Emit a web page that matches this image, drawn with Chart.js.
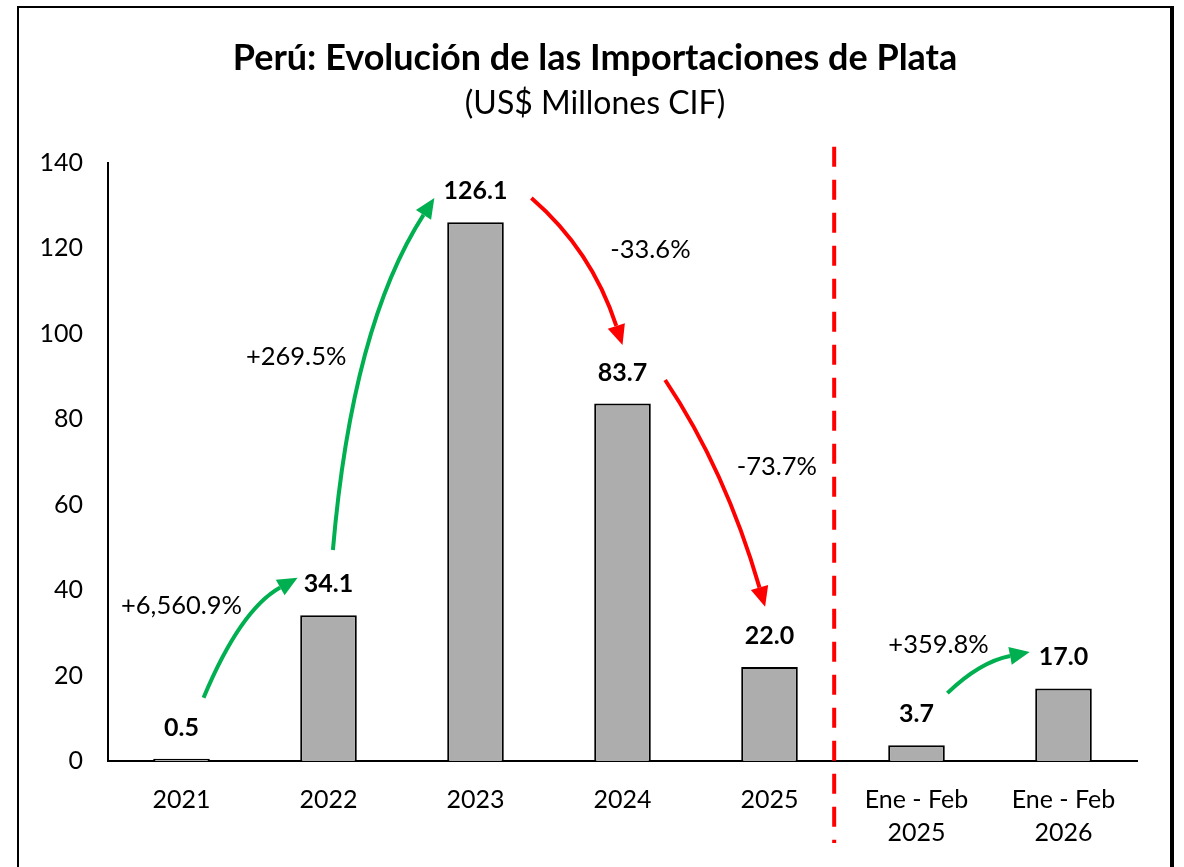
<!DOCTYPE html>
<html>
<head>
<meta charset="utf-8">
<script src="https://cdn.jsdelivr.net/npm/chart.js@4.4.1/dist/chart.umd.min.js"></script>
<style>
  html, body { margin: 0; padding: 0; background: #ffffff; }
  #wrap { position: relative; width: 1184px; height: 867px; }
  #frame {
    position: absolute; left: 17px; top: 6px; width: 1151px; height: 900px;
    border-left: 2px solid #000; border-top: 2px solid #000; border-right: 4px solid #000;
    pointer-events: none;
  }
</style>
</head>
<body>
<div id="wrap">
  <canvas id="silverChart" width="1184" height="867"></canvas>
  <div id="frame"></div>
</div>
<script>
// Chart data
const categories = ['2021', '2022', '2023', '2024', '2025', ['Ene - Feb', '2025'], ['Ene - Feb', '2026']];
const imports = [0.5, 34.1, 126.1, 83.7, 22.0, 3.7, 17.0];
const yTicks = [0, 20, 40, 60, 80, 100, 120, 140];

// Growth annotations: label text, label position and arrow (start, control, tip) in data units
const growthLabels = ['+6,560.9%', '+269.5%', '-33.6%', '-73.7%', '+359.8%'];
const growthColors = ['#00B050', '#00B050', '#FF0000', '#FF0000', '#00B050'];
const labelPos = [[0.0, 36.3], [0.78, 94.6], [3.19, 119.6], [4.05, 68.8], [5.15, 27.2]];
const arrowStart = [[0.15, 14.8], [1.03, 49.4], [2.38, 131.8], [3.29, 89.2], [5.21, 15.9]];
const arrowCtrl = [[0.40, 35.4], [1.16, 101.9], [2.79, 119.6], [3.70, 68.1], [5.43, 23.2]];
const arrowTip = [[0.79, 42.9], [1.72, 131.8], [3.0, 97.4], [3.97, 36.1], [5.77, 25.5]];

const FONT = 'Lato, "Open Sans", sans-serif';

// Title, subtitle, value labels, arrows and separator line
const annotationPlugin = {
    id: 'annotations',
    afterDatasetsDraw(chart) {
        const ctx = chart.ctx;
        const x = chart.scales.x;
        const y = chart.scales.y;
        const step = x.getPixelForValue(1) - x.getPixelForValue(0);
        const px = v => x.getPixelForValue(0) + v * step;

        ctx.save();
        ctx.fillStyle = '#000';
        ctx.textAlign = 'center';
        ctx.textBaseline = 'middle';
        ctx.font = 'bold 36px ' + FONT;
        ctx.fillText('Perú: Evolución de las Importaciones de Plata', 595, 58);
        ctx.font = '32px ' + FONT;
        ctx.fillText('(US$ Millones CIF)', 595, 104);

        // value labels above bars
        const meta = chart.getDatasetMeta(0);
        ctx.font = 'bold 25px ' + FONT;
        meta.data.forEach((bar, i) => {
            ctx.fillText(imports[i].toFixed(1), bar.x, bar.y - 31);
        });

        // separator line
        ctx.strokeStyle = '#FF0000';
        ctx.lineWidth = 4;
        ctx.setLineDash([20, 13]);
        ctx.beginPath();
        ctx.moveTo(px(4.44), y.getPixelForValue(143.8));
        ctx.lineTo(px(4.44), y.getPixelForValue(-19.2));
        ctx.stroke();
        ctx.setLineDash([]);

        // growth arrows
        growthLabels.forEach((txt, i) => {
            const color = growthColors[i];
            const s = [px(arrowStart[i][0]), y.getPixelForValue(arrowStart[i][1])];
            const c = [px(arrowCtrl[i][0]), y.getPixelForValue(arrowCtrl[i][1])];
            const t = [px(arrowTip[i][0]), y.getPixelForValue(arrowTip[i][1])];
            const ang = Math.atan2(t[1] - c[1], t[0] - c[0]);
            const headLen = 20, headW = 9;
            const bx = t[0] - headLen * Math.cos(ang), by = t[1] - headLen * Math.sin(ang);
            ctx.strokeStyle = color;
            ctx.fillStyle = color;
            ctx.lineWidth = 4;
            ctx.beginPath();
            ctx.moveTo(s[0], s[1]);
            ctx.quadraticCurveTo(c[0], c[1], bx, by);
            ctx.stroke();
            ctx.beginPath();
            ctx.moveTo(t[0], t[1]);
            ctx.lineTo(bx + headW * Math.sin(ang), by - headW * Math.cos(ang));
            ctx.lineTo(bx - headW * Math.sin(ang), by + headW * Math.cos(ang));
            ctx.closePath();
            ctx.fill();

            ctx.fillStyle = '#000';
            ctx.font = '25.5px ' + FONT;
            ctx.fillText(txt, px(labelPos[i][0]), y.getPixelForValue(labelPos[i][1]));
        });
        ctx.restore();
    }
};

document.addEventListener('DOMContentLoaded', function() {
    const ctx = document.getElementById('silverChart');
    new Chart(ctx.getContext('2d'), {
        type: 'bar',
        data: {
            labels: categories,
            datasets: [{
                data: imports,
                backgroundColor: '#ADADAD',
                borderColor: '#000000',
                borderWidth: 2,
                categoryPercentage: 1,
                barPercentage: 0.385
            }]
        },
        options: {
            responsive: false,
            animation: false,
            layout: { padding: { left: 38, right: 47, top: 163, bottom: 0 } },
            plugins: {
                legend: { display: false },
                tooltip: { enabled: false }
            },
            scales: {
                x: {
                    grid: { display: false, drawTicks: false },
                    border: { display: true, color: '#000', width: 2 },
                    ticks: {
                        color: '#000',
                        padding: 22,
                        maxRotation: 0,
                        font: { family: FONT, size: 25, lineHeight: 1.32 }
                    },
                    afterFit: s => { s.height = 106; }
                },
                y: {
                    min: 0,
                    max: 140,
                    grid: { display: false, drawTicks: false },
                    border: { display: true, color: '#000', width: 2 },
                    afterBuildTicks: s => { s.ticks = yTicks.map(v => ({ value: v })); },
                    ticks: {
                        color: '#000',
                        padding: 25,
                        font: { family: FONT, size: 25 }
                    },
                    afterFit: s => { s.width = 70; }
                }
            }
        },
        plugins: [annotationPlugin]
    });
});
</script>
</body>
</html>
